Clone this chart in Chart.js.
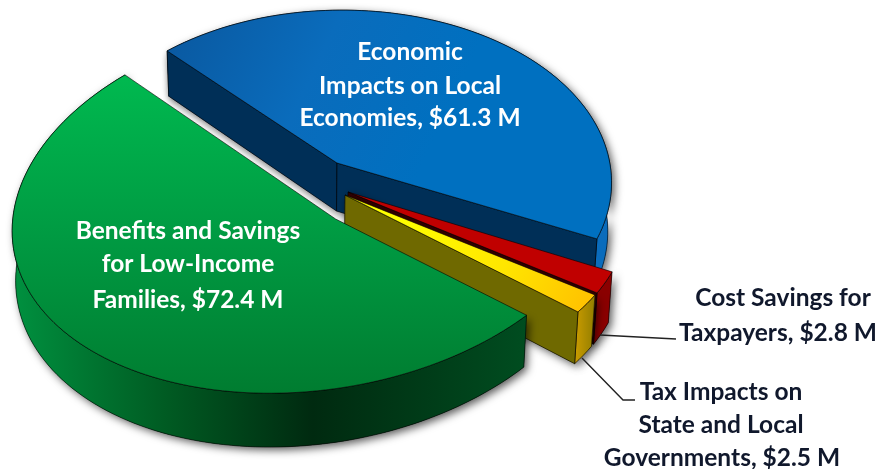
<!DOCTYPE html>
<html>
<head>
<meta charset="utf-8">
<title>Economic benefits</title>
<script src="https://cdn.jsdelivr.net/npm/chart.js@4"></script>
<style>
  html, body { margin: 0; padding: 0; background: #fff; }
  canvas { display: block; }
</style>
</head>
<body>
<canvas id="pie3d" width="880" height="469"></canvas>
<script>
// --- data ---
const categories = ['Economic Impacts on Local Economies', 'Cost Savings for Taxpayers', 'Tax Impacts on State and Local Governments', 'Benefits and Savings for Low-Income Families'];
const values = [61.3, 2.8, 2.5, 72.4];
const labelLines = [
    ['Economic', 'Impacts on Local', 'Economies, $61.3 M'],
    ['Cost Savings for', 'Taxpayers, $2.8 M'],
    ['Tax Impacts on', 'State and Local', 'Governments, $2.5 M'],
    ['Benefits and Savings', 'for Low-Income', 'Families, $72.4 M']
];

// --- 3D view: each slice has its own projective matrix [a,b,c,d,e,f,g,h] ---
const views = [
    [168, -209, 337, 100, 114, 163, -0.09, -0.08],
    [221.1, -177, 348, 127.9, 140.2, 192, 0, 0],
    [221.7, -179, 345, 126.1, 135.9, 195, 0, 0],
    [240.4, -218, 335.6, 143.9, 145, 219, 0.1203, 0]
];
const firstSliceRotation = 273.75;

const project = (v, x, y) => {
    const w = v[6] * x + v[7] * y + 1;
    return { x: (v[0] * x + v[1] * y + v[2]) / w, y: (v[3] * x + v[4] * y + v[5]) / w };
};
// point straight below on the bottom of the disc
const floorOf = (p) => ({ x: p.x + (300 - p.x) * 0.012, y: p.y + 44 + 0.025 * p.y });

const polygon = (ctx, pts) => {
    ctx.beginPath();
    pts.forEach((p, i) => (i ? ctx.lineTo(p.x, p.y) : ctx.moveTo(p.x, p.y)));
    ctx.closePath();
};

const linear = (ctx, x0, y0, x1, y1, stops) => {
    const g = ctx.createLinearGradient(x0, y0, x1, y1);
    stops.forEach((s) => g.addColorStop(s[0], s[1]));
    return g;
};

const sliceStyles = (ctx) => [
    {
        top: linear(ctx, 170, 50, 420, 170, [[0, '#0a5aa2'], [0.5, '#0a6cbc'], [1, '#0070c0']]),
        startWall: '#002f57', endWall: '#002f57', outer: '#0a6cbc'
    },
    { top: '#c00000', startWall: '#400000', endWall: '#300000', outer: '#8a0000' },
    {
        top: linear(ctx, 400, 210, 590, 310, [[0, '#ffff00'], [0.55, '#ffe600'], [1, '#ffc000']]),
        startWall: '#6f6900', endWall: '#6f6900',
        outer: linear(ctx, 576, 0, 596, 0, [[0, '#c79a00'], [1, '#8f7c00']])
    },
    {
        top: linear(ctx, 0, 80, 0, 395, [[0, '#00b84f'], [0.5, '#009a42'], [1, '#007c30']]),
        startWall: '#004a1e', endWall: '#004a1e',
        outer: linear(ctx, 15, 0, 528, 0, [[0, '#00903f'], [0.12, '#007a33'], [0.3, '#005a22'], [0.58, '#002a10'], [0.85, '#00401a'], [1, '#004d20']])
    }
];

const drawSlice = (ctx, el, i, style) => {
    const view = views[i];
    const rim = [];
    const steps = Math.ceil((el.endAngle - el.startAngle) / 0.03);
    for (let k = 0; k <= steps; k++) {
        const t = el.startAngle + (el.endAngle - el.startAngle) * k / steps;
        rim.push(project(view, Math.cos(t), Math.sin(t)));
    }
    const apex = project(view, 0, 0);
    const first = rim[0];
    const last = rim[rim.length - 1];
    const mid = rim[Math.floor(rim.length / 2)];

    // a cut face only shows when the slice lies above that edge
    const faceShows = (p) => {
        const ex = p.x - apex.x;
        const ey = p.y - apex.y;
        return (ex * (mid.y - apex.y) - ey * (mid.x - apex.x)) * ex < 0;
    };
    const walls = [[rim.concat(rim.map(floorOf).reverse()), style.outer]];
    if (faceShows(first)) walls.push([[apex, first, floorOf(first), floorOf(apex)], style.startWall]);
    if (faceShows(last)) walls.push([[apex, last, floorOf(last), floorOf(apex)], style.endWall]);

    ctx.strokeStyle = 'rgba(0,0,0,0.75)';
    ctx.lineWidth = 0.8;
    ctx.lineJoin = 'round';

    // soft shadow under the walls, then the walls themselves
    ctx.save();
    ctx.shadowColor = 'rgba(0,0,0,0.65)';
    ctx.shadowBlur = 8;
    ctx.shadowOffsetX = 3;
    ctx.shadowOffsetY = 3;
    walls.forEach((w) => { polygon(ctx, w[0]); ctx.fillStyle = w[1]; ctx.fill(); });
    ctx.restore();
    walls.forEach((w) => { polygon(ctx, w[0]); ctx.fillStyle = w[1]; ctx.fill(); ctx.stroke(); });

    polygon(ctx, [apex].concat(rim));
    ctx.fillStyle = style.top;
    ctx.fill();
    ctx.stroke();
};

const pie3dPlugin = {
    id: 'pie3d',
    beforeDatasetsDraw(chart) {
        const ctx = chart.ctx;
        const styles = sliceStyles(ctx);
        ctx.save();
        chart.getDatasetMeta(0).data.forEach((el, i) => drawSlice(ctx, el, i, styles[i]));
        ctx.restore();
        return false; // the flat arcs are replaced by the projected ones
    },
    afterDraw(chart) {
        const ctx = chart.ctx;
        ctx.save();
        // leader lines
        ctx.strokeStyle = '#222';
        ctx.lineWidth = 1.4;
        ctx.beginPath();
        ctx.moveTo(600, 335);
        ctx.lineTo(676, 339);
        ctx.moveTo(582, 358);
        ctx.lineTo(623, 400);
        ctx.lineTo(635, 400);
        ctx.stroke();

        // labels
        ctx.font = 'bold 24.5px Lato';
        ctx.textAlign = 'center';
        ctx.textBaseline = 'middle';
        const place = [
            { xs: [410, 410, 410], ys: [52, 86, 118], color: '#fff' },
            { xs: [783, 778], ys: [298, 333], color: '#10182c' },
            { xs: [721, 721, 722], ys: [392, 425, 458], color: '#10182c' },
            { xs: [188, 188, 188], ys: [231, 264, 300], color: '#fff' }
        ];
        place.forEach((p, i) => {
            ctx.fillStyle = p.color;
            labelLines[i].forEach((line, j) => ctx.fillText(line, p.xs[j], p.ys[j]));
        });
        ctx.restore();
    }
};

new Chart(document.getElementById('pie3d').getContext('2d'), {
    type: 'pie',
    data: {
        labels: categories,
        datasets: [{ data: values, backgroundColor: ['#0070c0', '#c00000', '#ffc000', '#00a040'], borderWidth: 0 }]
    },
    options: {
        responsive: false,
        animation: false,
        rotation: firstSliceRotation,
        plugins: { legend: { display: false }, tooltip: { enabled: false } }
    },
    plugins: [pie3dPlugin]
});
</script>
</body>
</html>
